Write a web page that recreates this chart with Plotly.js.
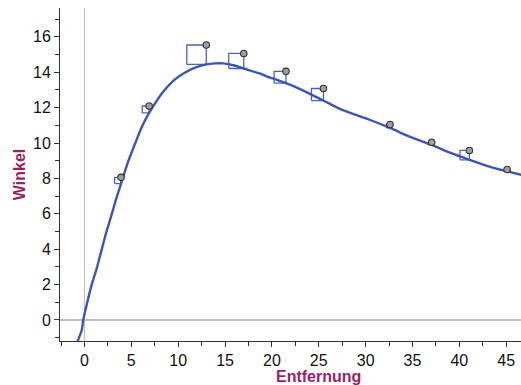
<!DOCTYPE html>
<html>
<head>
<meta charset="utf-8">
<script src="https://cdn.plot.ly/plotly-3.0.1.min.js"></script>
<style>
html,body{margin:0;padding:0;background:#fff;}
#chart{width:521px;height:385px;}
</style>
</head>
<body>
<div id="chart"></div>
<script>
// Measured data points
var pointX = [3.9, 6.9, 13.0, 17.0, 21.5, 25.5, 32.6, 37.05, 41.07, 45.1];
var pointY = [8.06, 12.09, 15.54, 15.06, 14.05, 13.08, 11.05, 10.04, 9.58, 8.5];

// Fitted curve
var curveX = [-1.0, -0.72, -0.3, -0.13, 0.3, 0.77, 1.3, 1.65, 2.3, 2.9, 3.3, 3.9, 4.7, 5.5, 6.2, 6.9, 7.6, 8.4, 9.66, 10.7, 11.8, 13.0, 13.9, 14.8, 16.0, 17.0, 18.7, 19.3, 21.5, 23.0, 25.5, 27.3, 30.5, 32.6, 34.7, 37.05, 39.0, 41.07, 43.3, 45.1, 46.6, 47.0];
var curveY = [-1.9, -1.2, -0.6, 0.0, 1.0, 2.0, 2.9, 3.6, 4.9, 5.95, 6.7, 7.7, 9.0, 10.1, 11.0, 11.7, 12.3, 12.9, 13.6, 13.97, 14.26, 14.44, 14.5, 14.5, 14.38, 14.21, 13.93, 13.8, 13.38, 13.05, 12.4, 11.92, 11.3, 10.85, 10.36, 9.89, 9.45, 9.05, 8.65, 8.4, 8.2, 8.15];

// Axis tick labels
var xTickVals = [0, 5, 10, 15, 20, 25, 30, 35, 40, 45];
var yTickVals = [0, 2, 4, 6, 8, 10, 12, 14, 16];

var W = 521, H = 385;
var M = {l: 60, r: 0, t: 8, b: 44};
var xRange = [-2.61, 46.58];
var yRange = [-1.19, 17.63];

function interp(xs, ys, x) {
  for (var i = 0; i < xs.length - 1; i++) {
    if (x >= xs[i] && x <= xs[i + 1]) {
      var t = (x - xs[i]) / (xs[i + 1] - xs[i]);
      return ys[i] + t * (ys[i + 1] - ys[i]);
    }
  }
  return ys[ys.length - 1];
}

var xPx = (W - M.l - M.r) / (xRange[1] - xRange[0]);
var yPx = (H - M.t - M.b) / (yRange[1] - yRange[0]);
var ratio = yPx / xPx;

var sqX = [], sqY = [];
for (var i = 0; i < pointX.length; i++) {
  var c = interp(curveX, curveY, pointX[i]);
  var r = pointY[i] - c;
  if (Math.abs(r) < 0.05) continue;
  var w = Math.abs(r) * ratio;
  var x0 = pointX[i] - w, x1 = pointX[i];
  sqX.push(x0, x1, x1, x0, x0, null);
  sqY.push(c, c, pointY[i], pointY[i], c, null);
}

var blue = '#3b56b5';
var traces = [
  {x: sqX, y: sqY, type: 'scatter', mode: 'lines', line: {color: '#4a63c2', width: 1.3}, hoverinfo: 'skip', connectgaps: false},
  {x: curveX, y: curveY, type: 'scatter', mode: 'lines', line: {color: blue, width: 2.4, shape: 'spline', smoothing: 0.8}},
  {x: pointX, y: pointY, type: 'scatter', mode: 'markers', marker: {color: '#a0a0a0', size: 6.5, line: {color: '#333', width: 1.1}}, cliponaxis: false}
];

var titleColor = '#9c1f66';
var layout = {
  width: W, height: H,
  margin: M,
  paper_bgcolor: '#fff', plot_bgcolor: '#fff',
  showlegend: false,
  font: {family: 'Liberation Sans, Arial, sans-serif', color: '#111', size: 15},
  xaxis: {
    range: xRange, showgrid: false, zeroline: true, zerolinecolor: '#bdbdbd', zerolinewidth: 1.2,
    showline: true, linecolor: '#333', linewidth: 1,
    tickmode: 'array', tickvals: xTickVals, ticktext: xTickVals.map(String),
    ticks: 'outside', ticklen: 5, tickcolor: '#333',
    minor: {dtick: 2.5, tick0: 0, ticks: 'outside', ticklen: 4, tickcolor: '#333', showgrid: false},
    tickfont: {size: 16, color: '#111'},
    title: {text: ''}
  },
  yaxis: {
    range: yRange, showgrid: false, zeroline: true, zerolinecolor: '#bdbdbd', zerolinewidth: 1.2,
    showline: true, linecolor: '#333', linewidth: 1,
    tickmode: 'array', tickvals: yTickVals, ticktext: yTickVals.map(String),
    ticks: 'outside', ticklen: 5, tickcolor: '#333',
    minor: {dtick: 1, tick0: 0, ticks: 'outside', ticklen: 4, tickcolor: '#333', showgrid: false},
    tickfont: {size: 16, color: '#111'},
    title: {text: '<b>Winkel</b>', font: {size: 16, color: titleColor}, standoff: 3}
  },
  annotations: [
    {text: '<b>Entfernung</b>', xref: 'paper', yref: 'paper', x: (318 - M.l) / (W - M.l - M.r), y: 0, yshift: -35, xanchor: 'center', yanchor: 'middle', showarrow: false, font: {size: 16, color: titleColor}}
  ]
};

Plotly.newPlot('chart', traces, layout, {displayModeBar: false, staticPlot: true});
</script>
</body>
</html>
